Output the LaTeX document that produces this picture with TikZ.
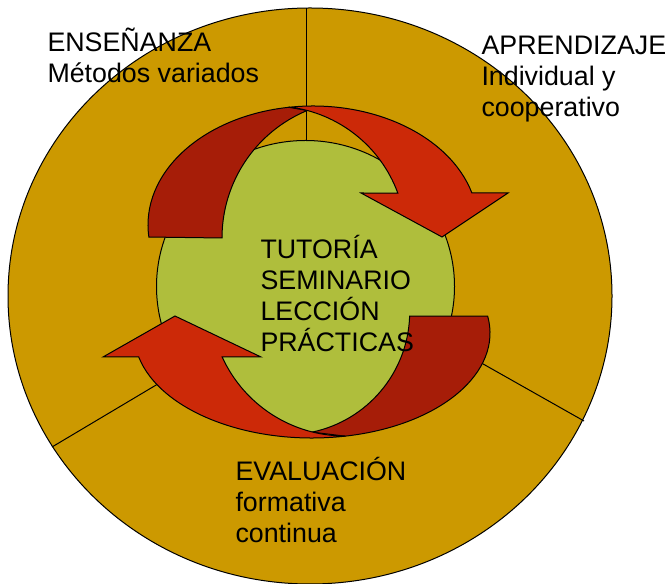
\documentclass[tikz,border=0pt]{standalone}
\usepackage{fontspec}
\setmainfont{Liberation Sans}
\usetikzlibrary{calc}

\definecolor{oro}{RGB}{204,153,0}
\definecolor{oliva}{RGB}{175,190,60}
\definecolor{rojo}{RGB}{204,41,8}
\definecolor{granate}{RGB}{166,29,8}

\begin{document}
\begin{tikzpicture}[x=1pt,y=1pt,line width=1pt,
  etiqueta/.style={anchor=base west,align=left,inner sep=0pt,font=\fontsize{26.8}{31}\selectfont}]
  \useasboundingbox (0,0) rectangle (671,583);

  % 外圈與分隔線
  \draw[fill=oro] (310,287) ellipse[x radius=302,y radius=288];
  \draw (306,296) -- (306,575);
  \draw (400,266) -- (584,162);
  \draw (220,236) -- (52,136);

  % 中心圓
  \draw[fill=oliva] (305.5,296.5) ellipse[x radius=149,y radius=146];

  % 上方箭頭:背面(暗)與正面(亮)
  \draw[fill=granate] ($(313,358)+(185.8:165 and 119)$)
    arc[start angle=185.8,end angle=98.4,x radius=165,y radius=119]
    -- ($(360,345)+(112.5:138)$) arc[start angle=112.5,end angle=180,radius=138] -- cycle;
  \draw[fill=rojo] ($(313,358)+(98.4:165 and 119)$)
    arc[start angle=98.4,end angle=15.6,x radius=165,y radius=119]
    -- (508,390) -- (442,346) -- (361,390)
    -- ($(273,344)+(20.2:133)$) arc[start angle=20.2,end angle=83,radius=133] -- cycle;

  % 下方箭頭
  \draw[fill=granate] ($(312,250)+(9.3:178 and 105)$)
    arc[start angle=9.3,end angle=-79.3,x radius=178,y radius=105]
    -- ($(287,271)+(-78.2:122.7)$) arc[start angle=-78.2,end angle=-1.9,radius=122.7] -- cycle;
  \draw[fill=rojo] ($(312,250)+(280.7:178 and 105)$)
    arc[start angle=280.7,end angle=193.2,x radius=178,y radius=105]
    -- (103,226) -- (175,267) -- (261,226)
    -- ($(345,282)+(204.5:135)$) arc[start angle=204.5,end angle=270,radius=135] -- cycle;

  % 文字(基線取最後一行)
  \node[etiqueta] (ensenanza) at (47,500) {ENSEÑANZA\\Métodos variados};
  \node[etiqueta] (aprendizaje) at (481,466) {APRENDIZAJE\\Individual y\\cooperativo};
  \node[etiqueta] (evaluacion) at (235,41) {EVALUACIÓN\\formativa\\continua};
  \node[etiqueta] (centro) at (260,231) {TUTORÍA\\SEMINARIO\\LECCIÓN\\PRÁCTICAS};
\end{tikzpicture}
\end{document}
